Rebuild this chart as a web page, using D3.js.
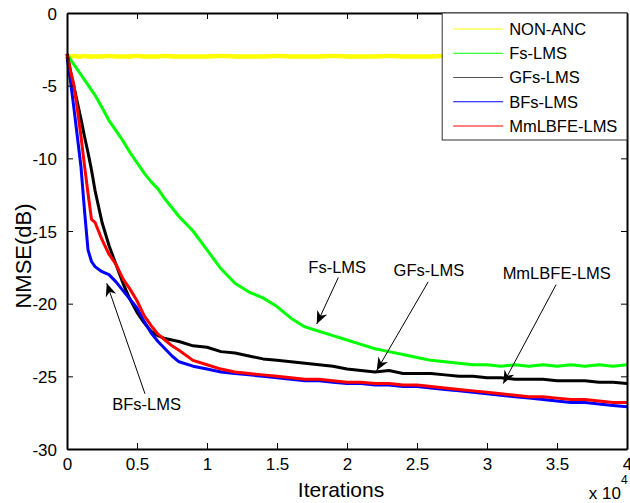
<!DOCTYPE html>
<html>
<head>
<meta charset="utf-8">
<script src="https://cdn.jsdelivr.net/npm/d3@7"></script>
<style>
  body { margin: 0; background: #fff; }
  svg { display: block; font-family: Arial, "Liberation Sans", sans-serif; }
</style>
</head>
<body>
<svg id="chart" width="630" height="503"></svg>
<script>
// iteration grid (x values)
const iters = [0, 250, 500, 750, 1000, 1250, 1500, 1750, 2000,
  2500, 3000, 3500, 4000, 4500, 5000, 5500, 6000, 6500, 7000, 7500, 8000,
  9000, 10000, 11000, 12000, 13000, 14000, 15000, 16000, 17000, 18000, 19000, 20000,
  21000, 22000, 23000, 24000, 25000, 26000, 27000, 28000, 29000, 30000,
  31000, 32000, 33000, 34000, 35000, 36000, 37000, 38000, 39000, 40000];

// NMSE values in dB
const nonAnc = [-2.95, -3.0, -2.95, -3.0, -3.0, -2.95, -3.0, -3.0, -3.0,
  -3.0, -2.95, -3.0, -3.0, -3.0, -2.95, -3.0, -3.0, -3.0, -2.95, -3.0, -3.0,
  -3.0, -3.0, -2.95, -3.0, -3.0, -3.0, -2.95, -3.0, -3.0, -3.0, -2.95, -3.0,
  -3.0, -3.0, -2.95, -3.0, -3.0, -3.0, -2.95, -3.0, -3.0, -3.0,
  -2.95, -3.0, -3.0, -3.0, -2.95, -3.0, -3.0, -3.0, -2.95, -3.0];
const fsLms = [-2.8, -3.2, -3.55, -3.9, -4.25, -4.6, -4.95, -5.3, -5.65,
  -6.5, -7.4, -8.1, -8.8, -9.6, -10.3, -11.0, -11.6, -12.1, -12.8, -13.4, -14.0,
  -15.0, -16.3, -17.6, -18.6, -19.2, -19.6, -20.2, -21.0, -21.6, -21.9, -22.2, -22.5,
  -22.8, -23.1, -23.3, -23.5, -23.7, -23.9, -24.0, -24.1, -24.2, -24.2,
  -24.3, -24.2, -24.3, -24.2, -24.3, -24.2, -24.3, -24.2, -24.3, -24.2];
const gfsLms = [-2.8, -4.0, -5.1, -6.2, -7.3, -8.5, -9.6, -10.8, -12.2,
  -14.4, -16.0, -17.3, -18.6, -19.7, -20.6, -21.3, -21.9, -22.2, -22.4, -22.5, -22.6,
  -22.9, -23.0, -23.3, -23.4, -23.6, -23.8, -23.9, -24.0, -24.1, -24.2, -24.3, -24.5,
  -24.6, -24.7, -24.6, -24.8, -24.8, -24.8, -24.9, -25.0, -25.0, -25.1,
  -25.1, -25.2, -25.2, -25.2, -25.3, -25.3, -25.3, -25.4, -25.4, -25.5];
const bfsLms = [-3.0, -4.7, -6.6, -8.6, -10.6, -13.6, -16.3, -17.1, -17.45,
  -17.8, -18.0, -18.5, -19.1, -19.7, -20.3, -21.2, -22.0, -22.6, -23.1, -23.6, -24.0,
  -24.3, -24.5, -24.7, -24.8, -24.9, -25.0, -25.1, -25.2, -25.3, -25.3, -25.4, -25.5,
  -25.5, -25.6, -25.6, -25.7, -25.7, -25.8, -25.9, -26.0, -26.1, -26.2,
  -26.3, -26.4, -26.5, -26.6, -26.7, -26.8, -26.8, -26.9, -27.0, -27.1];
const mmlbfeLms = [-2.8, -4.0, -5.0, -6.7, -8.5, -10.5, -12.4, -14.2, -14.4,
  -15.6, -16.6, -17.3, -18.3, -19.0, -19.8, -20.8, -21.5, -22.1, -22.5, -22.9, -23.2,
  -23.9, -24.2, -24.5, -24.7, -24.8, -24.9, -25.0, -25.1, -25.2, -25.2, -25.3, -25.4,
  -25.4, -25.5, -25.5, -25.6, -25.6, -25.7, -25.8, -25.9, -26.0, -26.1,
  -26.2, -26.3, -26.4, -26.4, -26.5, -26.6, -26.6, -26.7, -26.8, -26.8];

const seriesNames = ["NON-ANC", "Fs-LMS", "GFs-LMS", "BFs-LMS", "MmLBFE-LMS"];
const seriesColors = ["#ffff00", "#00ff00", "#000000", "#0000ff", "#ff0000"];
const legendColors = ["#ffff00", "#00ff00", "#555555", "#0000ff", "#ff0000"];
const seriesValues = [nonAnc, fsLms, gfsLms, bfsLms, mmlbfeLms];

const xTicks = [0, 5000, 10000, 15000, 20000, 25000, 30000, 35000, 40000];
const xTickLabels = ["0", "0.5", "1", "1.5", "2", "2.5", "3", "3.5", "4"];
const yTicks = [0, -5, -10, -15, -20, -25, -30];

// annotations: label, text anchor [iter, dB], arrow start, arrow tip
const notes = [
  {text: "Fs-LMS",     at: [19300, -17.9], from: [19380, -18.2], to: [17840, -21.4]},
  {text: "GFs-LMS",    at: [25850, -18.1], from: [25800, -18.5], to: [22120, -24.6]},
  {text: "MmLBFE-LMS", at: [34980, -18.3], from: [34930, -18.7], to: [31160, -25.5]},
  {text: "BFs-LMS",    at: [5690, -27.3],  from: [5570, -26.2],  to: [2840, -18.6]}
];

const margin = {top: 13, right: 3, bottom: 54, left: 67};
const W = 630, H = 503;
const width = W - margin.left - margin.right;
const height = H - margin.top - margin.bottom;

const x = d3.scaleLinear().domain([0, 40000]).range([0, width]);
const y = d3.scaleLinear().domain([-30, 0]).range([height, 0]);

const svg = d3.select("#chart");
svg.append("defs").append("marker")
  .attr("id", "head")
  .attr("markerUnits", "userSpaceOnUse")
  .attr("viewBox", "-14 -6 16 12")
  .attr("refX", 0).attr("refY", 0)
  .attr("markerWidth", 16).attr("markerHeight", 12)
  .attr("orient", "auto")
  .append("path")
  .attr("d", "M0,0 L-13,-5.5 L-9,0 L-13,5.5 Z")
  .attr("fill", "#000");

const g = svg.append("g").attr("transform", `translate(${margin.left},${margin.top})`);

// curves
const line = d3.line().x((d, i) => x(iters[i])).y(d => y(d));
seriesValues.forEach((vals, k) => {
  g.append("path")
    .datum(vals)
    .attr("fill", "none")
    .attr("stroke", seriesColors[k])
    .attr("stroke-width", k === 0 ? 4.5 : 3)
    .attr("stroke-linejoin", "round")
    .attr("d", line);
});

// axes (box with inward ticks on all sides)
const fs = "17px";
const axB = g.append("g").attr("transform", `translate(0,${height})`)
  .call(d3.axisBottom(x).tickValues(xTicks).tickFormat((d, i) => xTickLabels[i]).tickSizeInner(-6).tickSizeOuter(0).tickPadding(9));
const axT = g.append("g")
  .call(d3.axisTop(x).tickValues(xTicks).tickFormat("").tickSizeInner(-6).tickSizeOuter(0));
const axL = g.append("g")
  .call(d3.axisLeft(y).tickValues(yTicks).tickFormat(d => String(d)).tickSizeInner(-6).tickSizeOuter(0).tickPadding(10));
const axR = g.append("g").attr("transform", `translate(${width},0)`)
  .call(d3.axisRight(y).tickValues(yTicks).tickFormat("").tickSizeInner(-6).tickSizeOuter(0));
[axB, axT, axL, axR].forEach(a => {
  a.select(".domain").attr("stroke", "#000").attr("stroke-width", 2);
  a.selectAll(".tick line").attr("stroke", "#000").attr("stroke-width", 1);
  a.selectAll("text").attr("fill", "#000").style("font-size", fs).style("font-family", "Arial, 'Liberation Sans', sans-serif");
});
axL.selectAll("text").attr("dy", "0.36em");

// legend
const lg = g.append("g").attr("transform", `translate(${x(26800)},0)`);
const lgW = width - x(26800);
lg.append("rect").attr("x", 0).attr("y", 0).attr("width", lgW).attr("height", 127)
  .attr("fill", "#fff").attr("stroke", "#333").attr("stroke-width", 1);
seriesNames.forEach((name, i) => {
  const yy = 16 + i * 24.25;
  lg.append("line").attr("x1", 11).attr("x2", 61).attr("y1", yy).attr("y2", yy)
    .attr("stroke", legendColors[i]).attr("stroke-width", 1);
  lg.append("text").attr("x", 67).attr("y", yy).attr("dy", "0.36em")
    .style("font-size", "16.5px").text(name);
});

// annotations
notes.forEach(n => {
  g.append("line")
    .attr("x1", x(n.from[0])).attr("y1", y(n.from[1]))
    .attr("x2", x(n.to[0])).attr("y2", y(n.to[1]))
    .attr("stroke", "#000").attr("stroke-width", 1)
    .attr("marker-end", "url(#head)");
  g.append("text").attr("x", x(n.at[0])).attr("y", y(n.at[1]))
    .attr("text-anchor", "middle").style("font-size", "16.5px").text(n.text);
});

// axis titles
svg.append("text").attr("x", 341).attr("y", 497).attr("text-anchor", "middle")
  .style("font-size", "21px").text("Iterations");
svg.append("text").attr("transform", "translate(31,256) rotate(-90)").attr("text-anchor", "middle")
  .style("font-size", "22px").text("NMSE(dB)");
svg.append("text").attr("x", 621).attr("y", 499).attr("text-anchor", "end").style("font-size", fs).text("x 10");
svg.append("text").attr("x", 621).attr("y", 484).style("font-size", "12px").text("4");
</script>
</body>
</html>
